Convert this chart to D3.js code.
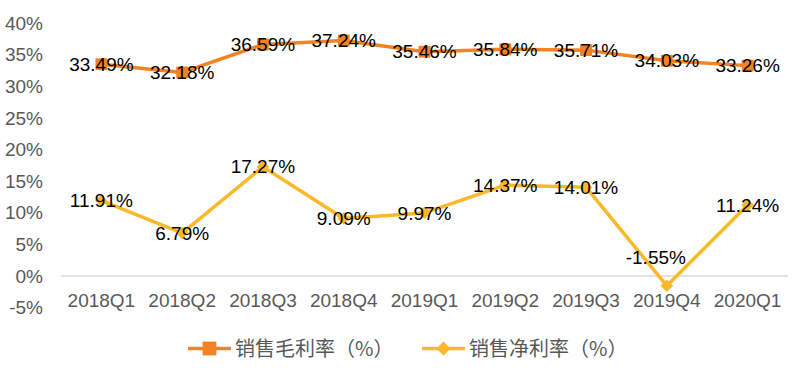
<!DOCTYPE html>
<html><head><meta charset="utf-8">
<script src="https://cdn.jsdelivr.net/npm/d3@7"></script>
<style>body{margin:0;background:#fff}svg{display:block}</style>
</head><body>
<svg id="c" width="800" height="374"></svg>
<script>
const categories = ["2018Q1","2018Q2","2018Q3","2018Q4","2019Q1","2019Q2","2019Q3","2019Q4","2020Q1"];
const grossMargin = [33.49,32.18,36.59,37.24,35.46,35.84,35.71,34.03,33.26];
const netMargin = [11.91,6.79,17.27,9.09,9.97,14.37,14.01,-1.55,11.24];
const yTicks = [-5,0,5,10,15,20,25,30,35,40];
const seriesNames = ["销售毛利率（%）","销售净利率（%）"];

const svg = d3.select("#c");
const x = d3.scaleBand().domain(categories).range([61, 788]);
const y = d3.scaleLinear().domain([-5, 40]).range([307.6, 23]);
const cx = d => x(d) + x.bandwidth()/2;
const orange = "#F58220", yellow = "#FBB829";
const font = "'Liberation Sans', Arial, sans-serif";

// y axis labels
svg.append("g").selectAll("text").data(yTicks).join("text")
  .attr("x", 43).attr("y", d => y(d)).attr("dy", "0.35em")
  .attr("text-anchor", "end").attr("font-family", font).attr("font-size", 19)
  .attr("fill", "#595959").text(d => d + "%");

// zero line
svg.append("line").attr("x1", 61).attr("x2", 788).attr("y1", y(0)).attr("y2", y(0))
  .attr("stroke", "#d9d9d9").attr("stroke-width", 1.5);

// x labels
svg.append("g").selectAll("text").data(categories).join("text")
  .attr("x", d => cx(d)).attr("y", 300).attr("dy", "0.35em")
  .attr("text-anchor", "middle").attr("font-family", font).attr("font-size", 19)
  .attr("fill", "#595959").text(d => d);

const line = d3.line().x((d,i) => cx(categories[i])).y(d => y(d));

svg.append("path").datum(grossMargin).attr("d", line).attr("fill", "none")
  .attr("stroke", orange).attr("stroke-width", 3.5).attr("stroke-linejoin", "round");
svg.append("path").datum(netMargin).attr("d", line).attr("fill", "none")
  .attr("stroke", yellow).attr("stroke-width", 3.5).attr("stroke-linejoin", "round");

const sq = d3.symbol().type(d3.symbolSquare).size(140);
const dm = d3.symbol().type(d3.symbolSquare).size(80);
svg.append("g").selectAll("path").data(grossMargin).join("path")
  .attr("transform", (d,i) => `translate(${cx(categories[i])},${y(d)})`)
  .attr("d", sq).attr("fill", orange);
svg.append("g").selectAll("path").data(netMargin).join("path")
  .attr("transform", (d,i) => `translate(${cx(categories[i])},${y(d)}) rotate(45)`)
  .attr("d", dm).attr("fill", yellow);

// data labels
svg.append("g").selectAll("text").data(grossMargin).join("text")
  .attr("x", (d,i) => cx(categories[i])).attr("y", d => y(d)).attr("dy", "0.35em")
  .attr("text-anchor", "middle").attr("font-family", font).attr("font-size", 19)
  .attr("fill", "#000").text(d => d.toFixed(2) + "%");
svg.append("g").selectAll("text").data(netMargin).join("text")
  .attr("x", (d,i) => cx(categories[i]) + (d < 0 ? -11 : 0))
  .attr("y", d => d < 0 ? y(d) - 28 : y(d)).attr("dy", "0.35em")
  .attr("text-anchor", "middle").attr("font-family", font).attr("font-size", 19)
  .attr("fill", "#000").text(d => d.toFixed(2) + "%");

// legend
const leg = [{name: seriesNames[0], color: orange, x0: 188}, {name: seriesNames[1], color: yellow, x0: 422}];
const lg = svg.append("g").selectAll("g").data(leg).join("g");
lg.append("line").attr("x1", d => d.x0).attr("x2", d => d.x0 + 43).attr("y1", 348.5).attr("y2", 348.5)
  .attr("stroke", d => d.color).attr("stroke-width", 3.5);
lg.append("path").attr("transform", (d,i) => `translate(${d.x0 + 21.5},348.5)` + (i === 1 ? " rotate(45)" : ""))
  .attr("d", (d,i) => i === 0 ? d3.symbol().type(d3.symbolSquare).size(190)() : d3.symbol().type(d3.symbolSquare).size(100)())
  .attr("fill", d => d.color);
lg.append("text").attr("x", d => d.x0 + 47).attr("y", 348.5).attr("dy", "0.35em")
  .attr("font-family", "'Noto Sans CJK SC', sans-serif").attr("font-size", 20)
  .attr("fill", "#595959").text(d => d.name);
</script>
</body></html>
